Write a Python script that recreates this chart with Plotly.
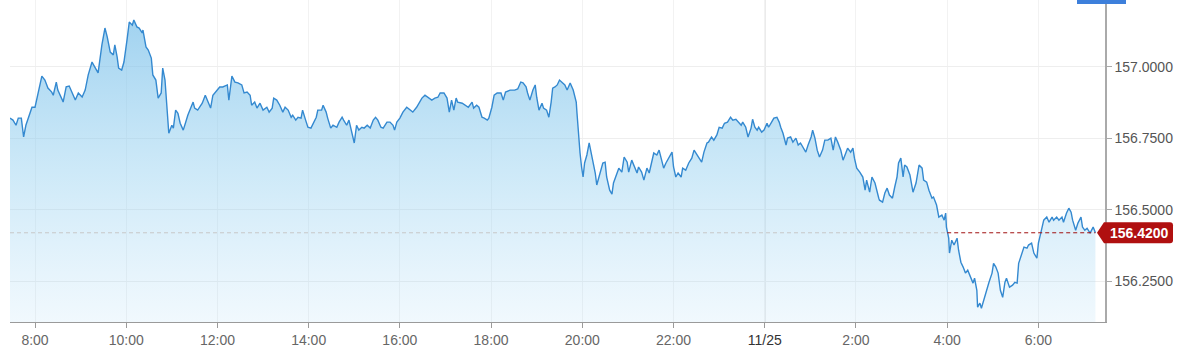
import pandas as pd
import plotly.graph_objects as go

# ---- data: minutes after 08:00 on 11/24, and price ----
minutes_a = [-33, -29, -25, -22, -18, -15, -12, -8, -4, 0, 3, 7, 9, 13, 17, 22, 24, 28, 30, 36,
             37, 41, 45, 49, 53, 57, 62, 66, 70, 75, 79, 83, 88, 92, 95, 99, 103, 105, 108, 110,
             114, 117, 121, 124, 128, 130, 134, 137, 141, 142, 146, 149, 153, 155, 159, 162, 166, 168, 171, 174,
             176, 180, 182, 185, 188, 191, 195, 197, 201, 208, 210, 214, 220, 224, 228, 231, 234, 239, 243]
prices_a = [156.821, 156.814, 156.796, 156.821, 156.821, 156.755, 156.796, 156.831, 156.859, 156.859,
            156.894, 156.936, 156.968, 156.954, 156.926, 156.912, 156.901, 156.947, 156.919, 156.884,
            156.877, 156.930, 156.933, 156.909, 156.884, 156.909, 156.895, 156.919, 156.972, 157.017,
            157.000, 156.979, 157.077, 157.136, 157.105, 157.052, 157.042, 157.077, 157.035, 156.996,
            156.989, 157.017, 157.094, 157.157, 157.146, 157.164, 157.140, 157.136, 157.119, 157.129,
            157.070, 157.059, 157.031, 156.972, 156.954, 156.891, 156.909, 156.996, 156.954, 156.838,
            156.768, 156.796, 156.786, 156.849, 156.838, 156.803, 156.779, 156.796, 156.831, 156.877,
            156.856, 156.849, 156.873, 156.901, 156.873, 156.856, 156.901, 156.919, 156.930]

minutes_b = [247, 253, 255, 259, 263, 267, 272, 275, 279, 283, 285, 289, 292, 296, 300, 305, 308, 312, 314, 318,
             322, 326, 329, 333, 337, 339, 343, 346, 350, 352, 356, 359, 363, 366, 370, 372, 377, 379, 383, 385,
             389, 392, 397, 400, 404, 406, 410, 413, 417, 420, 423, 426, 430, 433, 437, 441, 445, 448, 451, 455,
             458, 463, 467, 471, 473, 476, 480, 484, 489, 493, 497, 502, 509, 513, 517, 522, 526, 530]
prices_b = [156.930, 156.937, 156.884, 156.968, 156.947, 156.944, 156.937, 156.909, 156.912, 156.901,
            156.866, 156.877, 156.856, 156.873, 156.849, 156.859, 156.842, 156.856, 156.891, 156.884,
            156.866, 156.842, 156.859, 156.849, 156.824, 156.831, 156.814, 156.824, 156.821, 156.849,
            156.814, 156.789, 156.786, 156.803, 156.824, 156.849, 156.849, 156.866, 156.842, 156.821,
            156.786, 156.796, 156.789, 156.807, 156.824, 156.814, 156.796, 156.814, 156.772, 156.734,
            156.796, 156.779, 156.789, 156.786, 156.796, 156.786, 156.814, 156.824, 156.814, 156.789,
            156.786, 156.807, 156.807, 156.796, 156.779, 156.807, 156.821, 156.842, 156.859, 156.849,
            156.842, 156.859, 156.891, 156.901, 156.894, 156.884, 156.891, 156.894]

minutes_c = [533, 538, 542, 545, 548, 551, 554, 556, 562, 566, 570, 575, 577, 581, 584, 588, 591, 595, 597, 601,
             604, 608, 613, 616, 619, 625, 631, 635, 639, 642, 646, 648, 651, 655, 658, 660, 663, 667, 669, 673,
             676, 679, 681, 684, 687, 690, 694, 697, 700, 704, 708, 709, 712, 713, 715, 717, 719, 721, 723, 726,
             729, 731, 734, 737, 739, 743, 747, 750, 752, 756, 759, 761, 765, 768, 772, 775, 779, 781, 785, 788,
             792, 794, 798, 801, 805, 808, 811, 814, 818, 821]
prices_c = [156.909, 156.909, 156.891, 156.842, 156.884, 156.849, 156.891, 156.877, 156.873, 156.866,
            156.859, 156.877, 156.856, 156.866, 156.859, 156.824, 156.821, 156.814, 156.821, 156.859,
            156.901, 156.909, 156.909, 156.884, 156.912, 156.919, 156.919, 156.923, 156.947, 156.944,
            156.930, 156.909, 156.884, 156.919, 156.937, 156.894, 156.849, 156.873, 156.856, 156.849,
            156.824, 156.877, 156.926, 156.930, 156.937, 156.954, 156.944, 156.937, 156.919, 156.944,
            156.919, 156.909, 156.877, 156.838, 156.755, 156.699, 156.650, 156.615, 156.664, 156.692,
            156.734, 156.709, 156.664, 156.629, 156.587, 156.629, 156.664, 156.667, 156.615, 156.569,
            156.555, 156.594, 156.622, 156.646, 156.632, 156.685, 156.667, 156.632, 156.674, 156.657,
            156.629, 156.650, 156.632, 156.604, 156.646, 156.629, 156.667, 156.699, 156.692, 156.709]

minutes_d = [825, 827, 830, 834, 838, 840, 843, 846, 850, 852, 856, 860, 864, 867, 871, 873, 877, 880, 884, 886,
             890, 893, 897, 900, 904, 907, 911, 915, 918, 922, 925, 929, 931, 935, 938, 942, 944, 947, 950, 952,
             956, 959, 963, 965, 969, 972, 976, 979, 981, 984, 988, 990, 994, 997, 1001, 1004, 1007, 1010, 1014, 1017,
             1021, 1023, 1026, 1029, 1032, 1036, 1039, 1043, 1047, 1050, 1053, 1056, 1060, 1063, 1067, 1069, 1073,
             1076, 1078, 1081, 1085, 1089, 1092, 1094, 1098, 1101, 1105, 1107, 1110]
prices_d = [156.667, 156.646, 156.664, 156.681, 156.702, 156.650, 156.615, 156.629, 156.615, 156.646,
            156.639, 156.664, 156.681, 156.709, 156.692, 156.681, 156.667, 156.702, 156.734, 156.737,
            156.755, 156.744, 156.762, 156.789, 156.786, 156.803, 156.807, 156.824, 156.814, 156.817,
            156.807, 156.796, 156.807, 156.789, 156.755, 156.786, 156.817, 156.789, 156.779, 156.789,
            156.772, 156.779, 156.803, 156.789, 156.807, 156.821, 156.824, 156.807, 156.789, 156.768,
            156.727, 156.751, 156.755, 156.737, 156.751, 156.727, 156.734, 156.720, 156.702, 156.727,
            156.755, 156.779, 156.751, 156.709, 156.685, 156.709, 156.744, 156.744, 156.751, 156.709,
            156.755, 156.737, 156.709, 156.674, 156.702, 156.716, 156.702, 156.716, 156.681, 156.646,
            156.632, 156.615, 156.569, 156.604, 156.562, 156.615, 156.594, 156.569, 156.541]

minutes_e = [1111, 1115, 1118, 1121, 1124, 1128, 1131, 1134, 1136, 1139, 1142, 1144, 1147, 1151, 1155, 1159,
             1163, 1167, 1169, 1173, 1176, 1180, 1182, 1186, 1189, 1193, 1196, 1198, 1199, 1202, 1203, 1206,
             1209, 1213, 1215, 1218, 1221, 1224, 1227, 1231, 1234, 1236, 1239, 1240, 1243, 1245, 1248, 1252,
             1255, 1259, 1261, 1264, 1267, 1270, 1273, 1276, 1278, 1282, 1286, 1289, 1292, 1294, 1298, 1301,
             1305, 1307, 1311, 1314, 1318, 1320, 1324, 1327, 1331, 1334, 1338, 1340, 1344, 1347, 1351, 1353,
             1357, 1360, 1363, 1365, 1369, 1372, 1376, 1378, 1381, 1384, 1388, 1392, 1395]
prices_e = [156.534, 156.527, 156.559, 156.576, 156.552, 156.541, 156.580, 156.615, 156.664, 156.681,
            156.615, 156.657, 156.650, 156.622, 156.562, 156.594, 156.657, 156.646, 156.604, 156.597,
            156.569, 156.541, 156.545, 156.517, 156.475, 156.482, 156.464, 156.489, 156.440, 156.401,
            156.349, 156.394, 156.377, 156.401, 156.359, 156.317, 156.300, 156.279, 156.289, 156.265,
            156.244, 156.261, 156.219, 156.160, 156.174, 156.156, 156.184, 156.226, 156.247, 156.279,
            156.313, 156.300, 156.279, 156.219, 156.194, 156.247, 156.261, 156.230, 156.237, 156.247,
            156.244, 156.313, 156.349, 156.370, 156.366, 156.377, 156.384, 156.349, 156.331, 156.384,
            156.429, 156.464, 156.475, 156.457, 156.475, 156.464, 156.475, 156.464, 156.475, 156.457,
            156.489, 156.506, 156.492, 156.464, 156.429, 156.454, 156.475, 156.440, 156.429, 156.436,
            156.419, 156.440, 156.420]

last_price = 156.42
y_ticks = [156.25, 156.5, 156.75, 157.0]
tick_hours = list(range(0, 24, 2))  # hours after 08:00 on 11/24
tick_text = ["8:00", "10:00", "12:00", "14:00", "16:00", "18:00", "20:00", "22:00",
             '<span style="color:#333">11/25</span>', "2:00", "4:00", "6:00"]

# ---- build ----
base = pd.Timestamp("2024-11-24 08:00")
minutes = minutes_a + minutes_b + minutes_c + minutes_d + minutes_e
prices = prices_a + prices_b + prices_c + prices_d + prices_e
times = base + pd.to_timedelta(minutes, unit="min")

y_range = [156.108, 157.234]
x_range = [base + pd.Timedelta(minutes=-32.9), base + pd.Timedelta(minutes=1407.6)]
tick_times = [base + pd.Timedelta(hours=h) for h in tick_hours]
midnight = base + pd.Timedelta(hours=16)
red_start = base + pd.Timedelta(hours=20)

fig = go.Figure()
fig.add_trace(go.Scatter(
    x=times, y=prices, mode="lines",
    line=dict(color="#3489d0", width=1.4),
    fill="tozeroy",
    fillgradient=dict(
        type="vertical",
        colorscale=[[0, "rgba(165,215,245,0.16)"], [0.45, "rgba(148,208,240,0.45)"], [1, "rgba(115,188,232,0.72)"]],
        start=y_range[0], stop=y_range[1],
    ),
    hoverinfo="skip",
))

shapes = [
    dict(type="line", xref="x", yref="paper", x0=midnight, x1=midnight, y0=0, y1=1,
         line=dict(color="#cfcfcf", width=1.3), layer="below"),
    dict(type="line", xref="x", yref="y", x0=x_range[0], x1=red_start, y0=last_price, y1=last_price,
         line=dict(color="#c8c8c8", width=1, dash="4px,3px"), layer="above"),
    dict(type="line", xref="x", yref="y", x0=red_start, x1=times[-1], y0=last_price, y1=last_price,
         line=dict(color="#a01010", width=1, dash="4px,3px"), layer="above"),
    dict(type="path", xref="paper", yref="y", xsizemode="pixel", ysizemode="pixel",
         xanchor=1, yanchor=last_price,
         path="M-8,0 L-1,10.5 L65,10.5 Q68,10.5 68,7.5 L68,-7.5 Q68,-10.5 65,-10.5 L-1,-10.5 Z",
         fillcolor="#b01010", line=dict(width=0), layer="above"),
    dict(type="rect", xref="paper", yref="paper", xsizemode="pixel", ysizemode="pixel",
         xanchor=1, yanchor=1, x0=-28, x1=21, y0=-4, y1=4,
         fillcolor="#3d7fdb", line=dict(width=0), layer="above"),
]

fig.update_layout(
    width=1200, height=352,
    margin=dict(l=10, r=95, t=0, b=30),
    paper_bgcolor="white", plot_bgcolor="white",
    showlegend=False,
    font=dict(family="Liberation Sans, Arial, sans-serif", size=14, color="#555"),
    shapes=shapes,
    annotations=[dict(x=1, xref="paper", y=last_price, yref="y", xanchor="center", xshift=34,
                      text="<b>156.4200</b>", showarrow=False,
                      font=dict(color="white", size=14, family="Liberation Sans, Arial, sans-serif"))],
    xaxis=dict(type="date", range=x_range, tickvals=tick_times, ticktext=tick_text,
               showgrid=True, gridcolor="#f2f2f2", gridwidth=1,
               showline=True, linecolor="#9a9a9a", linewidth=1,
               ticks="outside", ticklen=5, tickcolor="#9a9a9a",
               zeroline=False, tickfont=dict(size=14, color="#666")),
    yaxis=dict(side="right", range=y_range, tickvals=y_ticks, tickformat=".4f",
               showgrid=True, gridcolor="#eeeeee", gridwidth=1,
               showline=True, linecolor="#aaaaaa", linewidth=1.5,
               ticks="outside", ticklen=5, tickcolor="#aaaaaa",
               zeroline=False, tickfont=dict(size=14, color="#555")),
)

fig.write_html("out.html")
